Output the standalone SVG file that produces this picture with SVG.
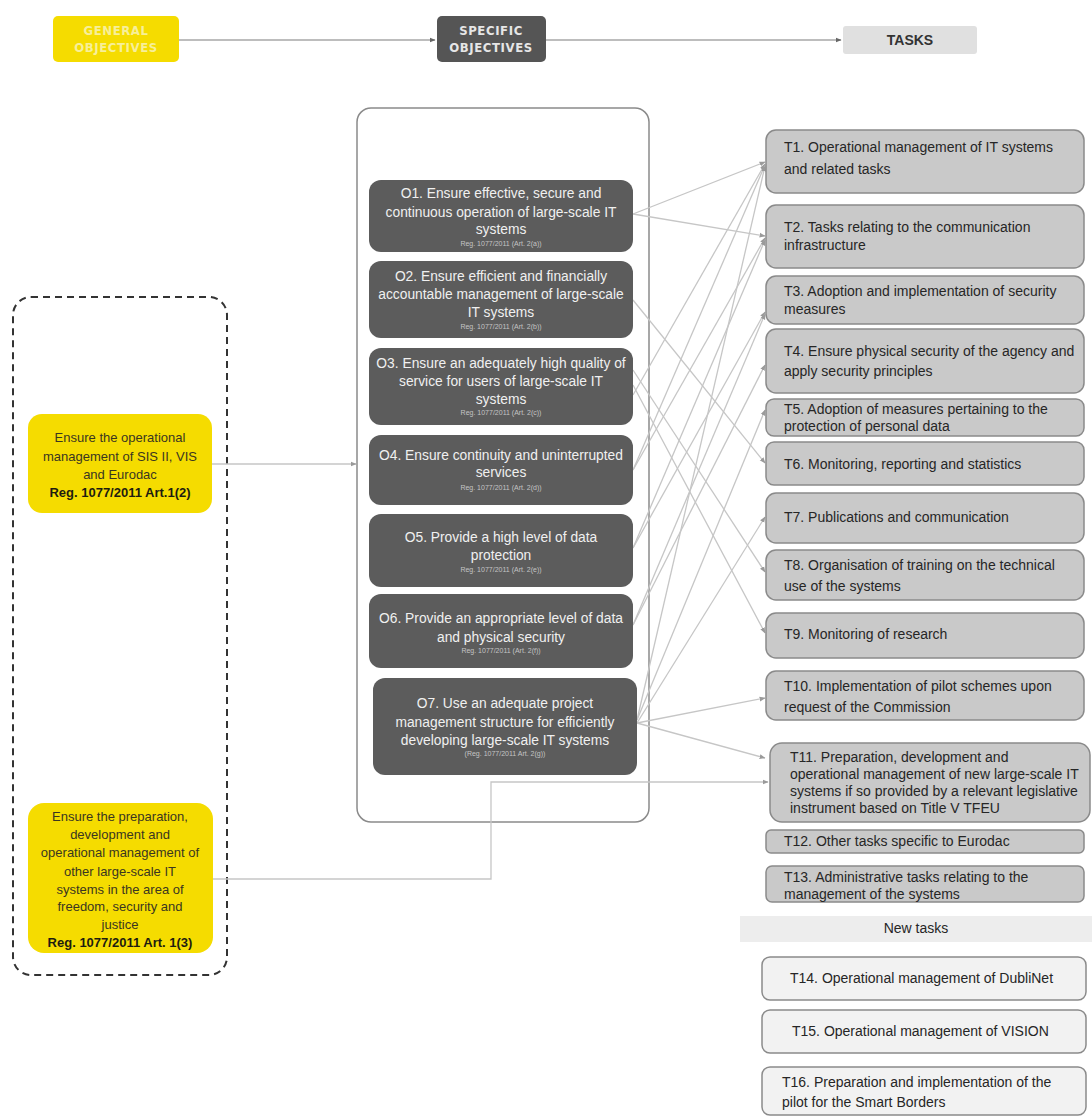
<svg xmlns="http://www.w3.org/2000/svg" width="1092" height="1118" viewBox="0 0 1092 1118">
<defs>
<marker id="ah" viewBox="0 0 10 10" refX="9" refY="5" markerWidth="6" markerHeight="6" markerUnits="userSpaceOnUse" orient="auto">
<path d="M0,1 L10,5 L0,9 z" fill="#9a9a9a"/>
</marker>
<marker id="ahd" viewBox="0 0 10 10" refX="9" refY="5" markerWidth="6" markerHeight="6" markerUnits="userSpaceOnUse" orient="auto">
<path d="M0,1 L10,5 L0,9 z" fill="#666"/>
</marker>
</defs>
<style>
.hdr{font-family:"DejaVu Sans Condensed","DejaVu Sans",sans-serif;font-weight:bold;font-size:13px;letter-spacing:0.6px;text-anchor:middle}
.ob{fill:#5c5c5c}
.ot{font-family:"Liberation Sans",Arial,sans-serif;font-size:13.8px;fill:#f0f0f0;text-anchor:middle}
.rg{font-family:"Liberation Sans",Arial,sans-serif;font-size:7px;fill:#c4c4c4;text-anchor:middle}
.tb{fill:#c9c9c9;stroke:#8a8a8a;stroke-width:1.5}
.tn{fill:#f2f2f2;stroke:#8a8a8a;stroke-width:1.5}
.tt{font-family:"Liberation Sans",Arial,sans-serif;font-size:14px;fill:#262626}
.gb{fill:#f5dc00}
.gt{font-family:"Liberation Sans",Arial,sans-serif;font-size:13px;fill:#3a3620;text-anchor:middle}
.gbt{font-weight:bold;fill:#1e1c10}
.cn{fill:none;stroke:#c6c6c6;stroke-width:1.3}
.hc{fill:none;stroke:#bdbdbd;stroke-width:2}
</style>

<g id="header">
<g id="hdr-general">
<rect x="53" y="16" width="126" height="46" rx="5" class="gb"/>
<text class="hdr" x="116" y="35" fill="#f7ef9a">GENERAL</text>
<text class="hdr" x="116" y="52" fill="#f7ef9a">OBJECTIVES</text>
</g>
<g id="hdr-specific">
<rect x="437" y="16" width="109" height="46" rx="5" fill="#555"/>
<text class="hdr" x="491" y="35" fill="#e6e6e6">SPECIFIC</text>
<text class="hdr" x="491" y="52" fill="#e6e6e6">OBJECTIVES</text>
</g>
<g id="hdr-tasks">
<rect x="843" y="26" width="134" height="28" rx="3" fill="#e0e0e0"/>
<text x="910" y="45" font-family="Liberation Sans,Arial,sans-serif" font-weight="bold" font-size="14" fill="#333" text-anchor="middle">TASKS</text>
</g>
</g>

<g id="go-container">
<rect x="13" y="297" width="214" height="678" rx="18" fill="none" stroke="#333" stroke-width="2" stroke-dasharray="7,5"/>
</g>

<g id="so-container">
<rect x="357" y="108" width="292" height="714" rx="14" fill="#fff" stroke="#8a8a8a" stroke-width="1.5"/>
</g>

<g id="connectors">
<line class="hc" x1="179" y1="40" x2="435" y2="40" marker-end="url(#ahd)"/>
<line class="hc" x1="546" y1="40" x2="841" y2="40" marker-end="url(#ahd)"/>
<line class="cn" x1="212" y1="464" x2="356" y2="464" marker-end="url(#ah)"/>
<polyline class="cn" points="213,879 491,879 491,782 768,782" marker-end="url(#ah)"/>
<line class="cn" x1="633" y1="214" x2="765" y2="162" marker-end="url(#ah)"/>
<line class="cn" x1="633" y1="214" x2="765" y2="236" marker-end="url(#ah)"/>
<line class="cn" x1="633" y1="300" x2="765" y2="463" marker-end="url(#ah)"/>
<line class="cn" x1="633" y1="370" x2="765" y2="572" marker-end="url(#ah)"/>
<line class="cn" x1="633" y1="385" x2="765" y2="633" marker-end="url(#ah)"/>
<line class="cn" x1="633" y1="395" x2="765" y2="164" marker-end="url(#ah)"/>
<line class="cn" x1="633" y1="470" x2="765" y2="165" marker-end="url(#ah)"/>
<line class="cn" x1="633" y1="470" x2="765" y2="238" marker-end="url(#ah)"/>
<line class="cn" x1="633" y1="548" x2="765" y2="240" marker-end="url(#ah)"/>
<line class="cn" x1="633" y1="548" x2="765" y2="312" marker-end="url(#ah)"/>
<line class="cn" x1="633" y1="625" x2="765" y2="314" marker-end="url(#ah)"/>
<line class="cn" x1="633" y1="625" x2="765" y2="365" marker-end="url(#ah)"/>
<line class="cn" x1="637" y1="720" x2="765" y2="166" marker-end="url(#ah)"/>
<line class="cn" x1="637" y1="720" x2="765" y2="410" marker-end="url(#ah)"/>
<line class="cn" x1="637" y1="723" x2="765" y2="517" marker-end="url(#ah)"/>
<line class="cn" x1="637" y1="723" x2="765" y2="698" marker-end="url(#ah)"/>
<line class="cn" x1="637" y1="723" x2="765" y2="758" marker-end="url(#ah)"/>
</g>

<g id="GO1">
<rect x="28" y="414" width="184" height="99" rx="14" class="gb"/>
<text class="gt" x="120" y="442">Ensure the operational</text>
<text class="gt" x="120" y="461">management of SIS II, VIS</text>
<text class="gt" x="120" y="479">and Eurodac</text>
<text class="gt gbt" x="120" y="497">Reg. 1077/2011 Art.1(2)</text>
</g>
<g id="GO2">
<rect x="28" y="803" width="185" height="150" rx="16" class="gb"/>
<text class="gt" x="120" y="821">Ensure the preparation,</text>
<text class="gt" x="120" y="839">development and</text>
<text class="gt" x="120" y="857">operational management of</text>
<text class="gt" x="120" y="876">other large-scale IT</text>
<text class="gt" x="120" y="894">systems in the area of</text>
<text class="gt" x="120" y="911">freedom, security and</text>
<text class="gt" x="120" y="929">justice</text>
<text class="gt gbt" x="120" y="947">Reg. 1077/2011 Art. 1(3)</text>
</g>

<g id="O1">
<rect x="369" y="180" width="264" height="72" rx="12" class="ob"/>
<text class="ot" x="501" y="198">O1. Ensure effective, secure and</text>
<text class="ot" x="501" y="217">continuous operation of large-scale IT</text>
<text class="ot" x="501" y="234">systems</text>
<text class="rg" x="501" y="246">Reg. 1077/2011 (Art. 2(a))</text>
</g>
<g id="O2">
<rect x="369" y="261" width="264" height="77" rx="12" class="ob"/>
<text class="ot" x="501" y="281">O2. Ensure efficient and financially</text>
<text class="ot" x="501" y="299">accountable management of large-scale</text>
<text class="ot" x="501" y="317">IT systems</text>
<text class="rg" x="501" y="329">Reg. 1077/2011 (Art. 2(b))</text>
</g>
<g id="O3">
<rect x="369" y="348" width="264" height="77" rx="12" class="ob"/>
<text class="ot" x="501" y="368">O3. Ensure an adequately high quality of</text>
<text class="ot" x="501" y="386">service for users of large-scale IT</text>
<text class="ot" x="501" y="404">systems</text>
<text class="rg" x="501" y="415">Reg. 1077/2011 (Art. 2(c))</text>
</g>
<g id="O4">
<rect x="369" y="435" width="264" height="70" rx="12" class="ob"/>
<text class="ot" x="501" y="460">O4. Ensure continuity and uninterrupted</text>
<text class="ot" x="501" y="477">services</text>
<text class="rg" x="501" y="490">Reg. 1077/2011 (Art. 2(d))</text>
</g>
<g id="O5">
<rect x="369" y="514" width="264" height="73" rx="12" class="ob"/>
<text class="ot" x="501" y="542">O5. Provide a high level of data</text>
<text class="ot" x="501" y="560">protection</text>
<text class="rg" x="501" y="572">Reg. 1077/2011 (Art. 2(e))</text>
</g>
<g id="O6">
<rect x="369" y="594" width="264" height="74" rx="12" class="ob"/>
<text class="ot" x="501" y="623">O6. Provide an appropriate level of data</text>
<text class="ot" x="501" y="642">and physical security</text>
<text class="rg" x="501" y="653">Reg. 1077/2011 (Art. 2(f))</text>
</g>
<g id="O7">
<rect x="373" y="678" width="264" height="97" rx="12" class="ob"/>
<text class="ot" x="505" y="708">O7. Use an adequate project</text>
<text class="ot" x="505" y="727">management structure for efficiently</text>
<text class="ot" x="505" y="745">developing large-scale IT systems</text>
<text class="rg" x="505" y="756">(Reg. 1077/2011 Art. 2(g))</text>
</g>

<g id="T1"><rect x="766" y="130" width="318" height="63" rx="10" class="tb"/>
<text class="tt" x="784" y="152">T1. Operational management of IT systems</text>
<text class="tt" x="784" y="174">and related tasks</text></g>
<g id="T2"><rect x="766" y="205" width="318" height="63" rx="10" class="tb"/>
<text class="tt" x="784" y="232">T2. Tasks relating to the communication</text>
<text class="tt" x="784" y="250">infrastructure</text></g>
<g id="T3"><rect x="766" y="276" width="318" height="48" rx="10" class="tb"/>
<text class="tt" x="784" y="296">T3. Adoption and implementation of security</text>
<text class="tt" x="784" y="314">measures</text></g>
<g id="T4"><rect x="766" y="329" width="318" height="64" rx="10" class="tb"/>
<text class="tt" x="784" y="356">T4. Ensure physical security of the agency and</text>
<text class="tt" x="784" y="376">apply security principles</text></g>
<g id="T5"><rect x="766" y="399" width="318" height="37" rx="8" class="tb"/>
<text class="tt" x="784" y="414">T5. Adoption of measures pertaining to the</text>
<text class="tt" x="784" y="431">protection of personal data</text></g>
<g id="T6"><rect x="766" y="442" width="318" height="43" rx="8" class="tb"/>
<text class="tt" x="784" y="469">T6. Monitoring, reporting and statistics</text></g>
<g id="T7"><rect x="766" y="493" width="318" height="50" rx="10" class="tb"/>
<text class="tt" x="784" y="522">T7. Publications and communication</text></g>
<g id="T8"><rect x="766" y="550" width="318" height="50" rx="10" class="tb"/>
<text class="tt" x="784" y="570">T8. Organisation of training on the technical</text>
<text class="tt" x="784" y="591">use of the systems</text></g>
<g id="T9"><rect x="766" y="613" width="318" height="45" rx="10" class="tb"/>
<text class="tt" x="784" y="639">T9. Monitoring of research</text></g>
<g id="T10"><rect x="766" y="671" width="318" height="49" rx="10" class="tb"/>
<text class="tt" x="784" y="691">T10. Implementation of pilot schemes upon</text>
<text class="tt" x="784" y="712">request of the Commission</text></g>
<g id="T11"><rect x="770" y="743" width="320" height="79" rx="12" class="tb"/>
<text class="tt" x="790" y="762">T11. Preparation, development and</text>
<text class="tt" x="790" y="779">operational management of new large-scale IT</text>
<text class="tt" x="790" y="796">systems if so provided by a relevant legislative</text>
<text class="tt" x="790" y="813">instrument based on Title V TFEU</text></g>
<g id="T12"><rect x="766" y="830" width="318" height="23" rx="5" class="tb"/>
<text class="tt" x="784" y="846">T12. Other tasks specific to Eurodac</text></g>
<g id="T13"><rect x="766" y="866" width="318" height="36" rx="6" class="tb"/>
<text class="tt" x="784" y="882">T13. Administrative tasks relating to the</text>
<text class="tt" x="784" y="899">management of the systems</text></g>
<g id="new-tasks"><rect x="740" y="916" width="352" height="26" fill="#ededed"/>
<text class="tt" x="916" y="933" text-anchor="middle">New tasks</text></g>
<g id="T14"><rect x="762" y="957" width="324" height="43" rx="8" class="tn"/>
<text class="tt" x="790" y="983">T14. Operational  management of DubliNet</text></g>
<g id="T15"><rect x="762" y="1010" width="324" height="43" rx="8" class="tn"/>
<text class="tt" x="792" y="1036">T15. Operational  management of VISION</text></g>
<g id="T16"><rect x="762" y="1067" width="324" height="48" rx="8" class="tn"/>
<text class="tt" x="782" y="1087">T16. Preparation and implementation of the</text>
<text class="tt" x="782" y="1107">pilot for the Smart Borders</text></g>
</svg>
